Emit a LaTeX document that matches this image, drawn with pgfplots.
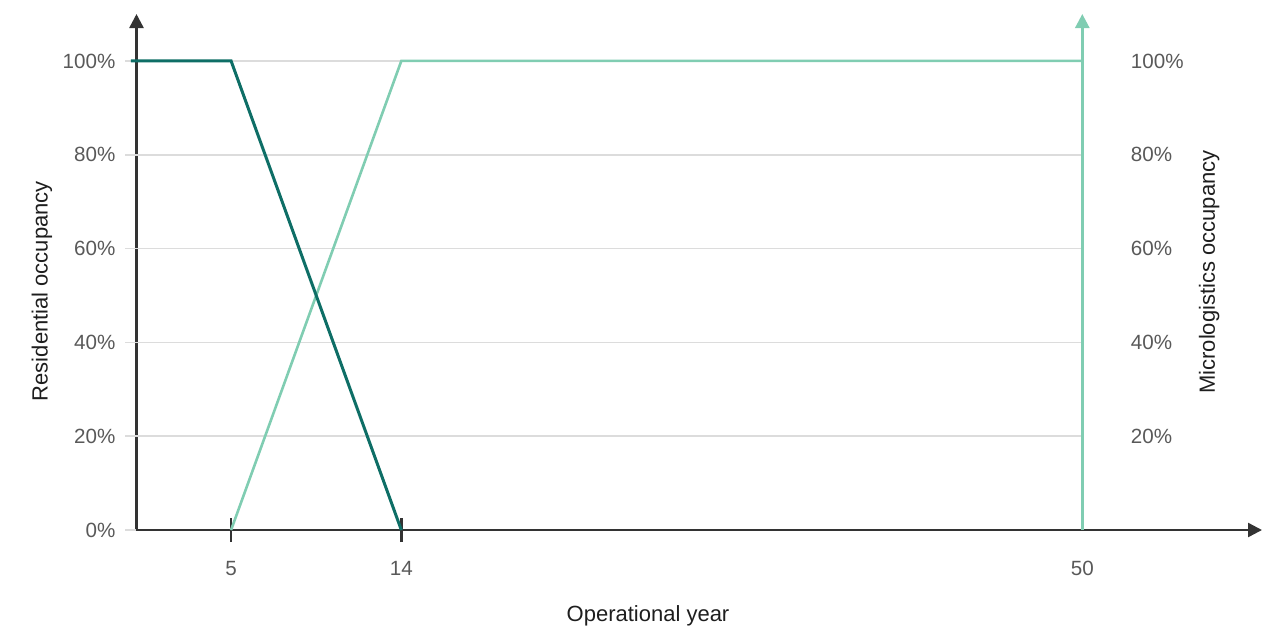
\documentclass[border=0pt]{standalone}
\usepackage{fontspec}
\setmainfont{Liberation Sans}
\usepackage{pgfplots}
\pgfplotsset{compat=1.18}
\usetikzlibrary{arrows.meta}
\definecolor{resi}{HTML}{0E6E66}
\definecolor{micro}{HTML}{80CDB2}
\definecolor{gridc}{HTML}{DCDCDC}
\definecolor{axisc}{HTML}{333333}
\definecolor{tickc}{HTML}{595959}
\definecolor{labc}{HTML}{1E1E1E}
\begin{document}
\begin{tikzpicture}
\begin{axis}[
  scale only axis, width=562.75pt, height=258pt,
  xmin=0, xmax=59.5, ymin=0, ymax=110,
  clip=false,
  /pgf/number format/assume math mode=true,
  axis x line=bottom, axis y line=left,
  axis line style={draw=axisc, line width=1.2pt, -{Triangle[length=7pt,width=7pt]}},
  xtick={5,14}, extra x ticks={50},
  extra x tick style={major tick length=0pt, xticklabel style={yshift=-6pt}},
  tick align=center,
  xtick style={draw=axisc, line width=1.2pt},
  major tick length=12pt,
  ytick={0,20,40,60,80,100},
  ytick style={draw=none},
  yticklabel={\pgfmathprintnumber{\tick}\%},
  ticklabel style={font=\fontsize{10.3}{12}\selectfont, text=tickc},
  yticklabel style={xshift=-1pt},
  xticklabel style={yshift=-6pt},
]
% gridlines
\addplot[gridc, line width=0.8pt, forget plot] coordinates {(-0.6,0)(0,0)};
\addplot[gridc, line width=0.8pt, forget plot] coordinates {(-0.6,20)(50,20)};
\addplot[gridc, line width=0.8pt, forget plot] coordinates {(-0.6,40)(50,40)};
\addplot[gridc, line width=0.8pt, forget plot] coordinates {(-0.6,60)(50,60)};
\addplot[gridc, line width=0.8pt, forget plot] coordinates {(-0.6,80)(50,80)};
\addplot[gridc, line width=0.8pt, forget plot] coordinates {(-0.6,100)(50,100)};
% right axis
\addplot[micro, line width=1.3pt, -{Triangle[length=7pt,width=7pt]}] coordinates {(50,0)(50,110)};
% micrologistics occupancy
\addplot[micro, line width=1.3pt] coordinates {(5,0)(14,100)(50,100)};
% residential occupancy
\addplot[resi, line width=1.5pt] coordinates {(-0.3,100)(5,100)(14,0)};
% right tick labels
\node[anchor=west, font=\fontsize{10.3}{12}\selectfont, text=tickc] at (axis cs:52.2,20) {20\%};
\node[anchor=west, font=\fontsize{10.3}{12}\selectfont, text=tickc] at (axis cs:52.2,40) {40\%};
\node[anchor=west, font=\fontsize{10.3}{12}\selectfont, text=tickc] at (axis cs:52.2,60) {60\%};
\node[anchor=west, font=\fontsize{10.3}{12}\selectfont, text=tickc] at (axis cs:52.2,80) {80\%};
\node[anchor=west, font=\fontsize{10.3}{12}\selectfont, text=tickc] at (axis cs:52.2,100) {100\%};
% axis labels
\node[rotate=90, font=\fontsize{11}{13}\selectfont, text=labc] at (rel axis cs:-0.084,0.463) {Residential occupancy};
\node[rotate=90, font=\fontsize{11}{13}\selectfont, text=labc] at (rel axis cs:0.953,0.5) {Micrologistics occupancy};
\node[font=\fontsize{11}{13}\selectfont, text=labc] at (rel axis cs:0.4545,-0.166) {Operational year};
\end{axis}
\path (-68.25pt,-49pt) rectangle (573.75pt,265pt);
\end{tikzpicture}
\end{document}
